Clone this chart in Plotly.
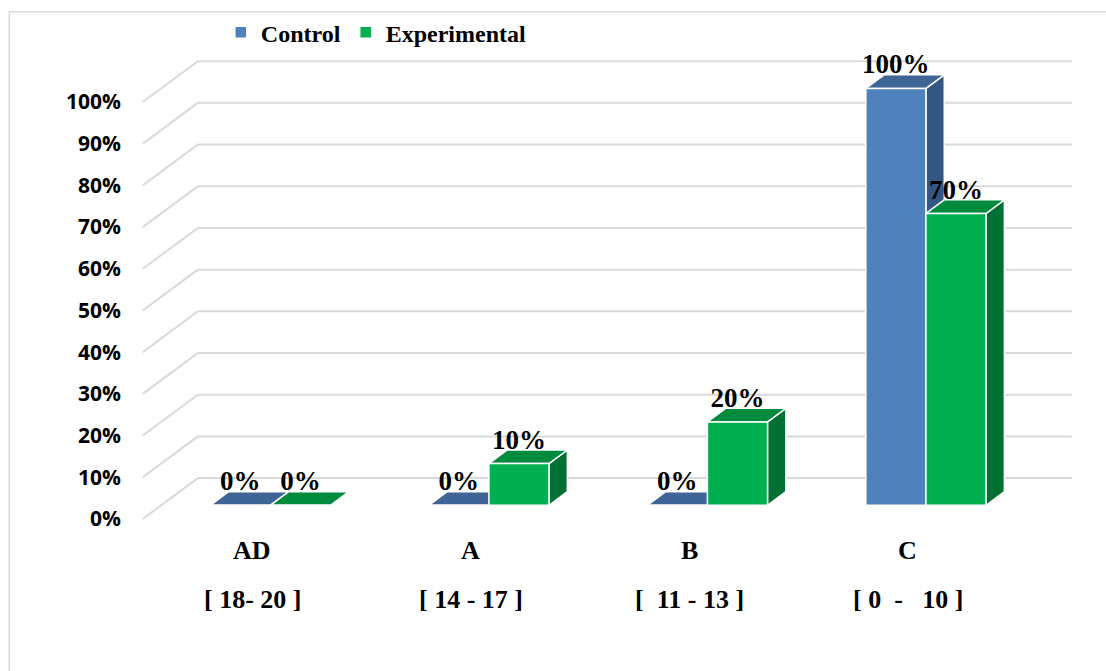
import plotly.graph_objects as go

# ---- data ----
grades = ["AD", "A", "B", "C"]
score_ranges = ["[ 18- 20 ]", "[ 14 - 17 ]", "[  11 - 13 ]", "[ 0  -   10 ]"]
control = [0, 0, 0, 100]
experimental = [0, 10, 20, 70]
y_ticks = [0, 10, 20, 30, 40, 50, 60, 70, 80, 90, 100]
y_tick_text = [f"{v}%" for v in y_ticks]

# ---- styling / geometry ----
W, H = 1106, 671
PX_CAT, X_CAT0 = 218.5, 252.2      # pixels per category, pixel of category 0 (front plane)
PX_PCT, Y_PCT0 = 4.17, 519.3       # pixels per percent, pixel of 0% (front plane)
DEPTH_X, DEPTH_Y = 0.252, 9.8      # oblique depth offset of the floor/walls (data units)
BAR_W = 0.275                      # width of one bar (category units)
X_RANGE = [-0.595, 3.78]
Y_RANGE = [-30, 118]

ML = X_CAT0 + X_RANGE[0] * PX_CAT
MR = W - (X_CAT0 + X_RANGE[1] * PX_CAT)
MT = Y_PCT0 - Y_RANGE[1] * PX_PCT
MB = H - (Y_PCT0 - Y_RANGE[0] * PX_PCT)
PLOT_W, PLOT_H = W - ML - MR, H - MT - MB

GRID = "#D9D9D9"
COLORS = {
    "Control": {"front": "#4F81BD", "top": "#3E6595", "side": "#345682"},
    "Experimental": {"front": "#00B050", "top": "#008A3E", "side": "#007033"},
}
SERIF = "Liberation Serif, Times New Roman, serif"
SANS = "Open Sans, Arial, sans-serif"


def shift(x, y, t):
    """Point (x, y) on the front plane pushed back to depth t (0..1)."""
    return x + t * DEPTH_X, y + t * DEPTH_Y


def poly(points):
    return "M " + " L ".join(f"{x},{y}" for x, y in points) + " Z"


shapes = []

# back wall and side wall gridlines
for v in y_ticks:
    bx0, by = shift(-0.5, v, 1)
    bx1, _ = shift(3.5, v, 1)
    shapes.append(dict(type="line", xref="x", yref="y", x0=bx0, y0=by, x1=bx1, y1=by,
                       line=dict(color=GRID, width=2), layer="below"))
    shapes.append(dict(type="line", xref="x", yref="y", x0=-0.5, y0=v, x1=bx0, y1=by,
                       line=dict(color=GRID, width=2), layer="below"))

# top and side faces of each bar (front faces are drawn as bar traces)
series = [("Control", control, -BAR_W), ("Experimental", experimental, 0.0)]
for i in range(len(grades)):
    for name, vals, off in series:
        v = vals[i]
        a, b_ = i + off, i + off + BAR_W
        col = COLORS[name]
        if v > 0:
            side = [shift(b_, 0, 1 / 3), shift(b_, v, 1 / 3), shift(b_, v, 2 / 3), shift(b_, 0, 2 / 3)]
            shapes.append(dict(type="path", xref="x", yref="y", path=poly(side),
                               fillcolor=col["side"], line=dict(color="white", width=1.5), layer="below"))
        top = [shift(a, v, 1 / 3), shift(b_, v, 1 / 3), shift(b_, v, 2 / 3), shift(a, v, 2 / 3)]
        shapes.append(dict(type="path", xref="x", yref="y", path=poly(top),
                           fillcolor=col["top"], line=dict(color="white", width=1.5), layer="below"))

# chart area border
shapes.append(dict(type="rect", xref="paper", yref="paper",
                   x0=(9.5 - ML) / PLOT_W, x1=(W + 20 - ML) / PLOT_W,
                   y0=-(H + 20 - MT - PLOT_H) / PLOT_H, y1=1 + (MT - 12) / PLOT_H,
                   line=dict(color=GRID, width=1.5), fillcolor="rgba(0,0,0,0)", layer="below"))

fig = go.Figure()

# front faces
for name, vals, off in series:
    fig.add_trace(go.Bar(
        name=name,
        x=[i + DEPTH_X / 3 for i in range(len(grades))],
        y=vals,
        base=DEPTH_Y / 3,
        width=BAR_W,
        offset=off,
        marker=dict(color=COLORS[name]["front"], line=dict(color="white", width=1.5)),
        hoverinfo="skip",
    ))

# value labels just above the top faces
LABEL_DROP = 1.3
for name, vals, off in series:
    xs = [shift(i + off + BAR_W / 2, v, 1 / 3)[0] for i, v in enumerate(vals)]
    ys = [shift(0, v, 2 / 3)[1] - LABEL_DROP for v in vals]
    fig.add_trace(go.Scatter(
        x=xs, y=ys, mode="text", text=[f"{v}%" for v in vals],
        textposition="top center",
        textfont=dict(family=SERIF, size=27, color="black", weight="bold"),
        showlegend=False, hoverinfo="skip",
    ))

# category labels under the floor
annotations = []
for i, (g, rng) in enumerate(zip(grades, score_ranges)):
    annotations.append(dict(x=i, y=(Y_PCT0 - 551) / PX_PCT, xref="x", yref="y", text=g,
                            showarrow=False, font=dict(family=SERIF, size=26, color="black", weight="bold")))
    annotations.append(dict(x=i, y=(Y_PCT0 - 600) / PX_PCT, xref="x", yref="y", text=rng,
                            showarrow=False, font=dict(family=SERIF, size=26, color="black", weight="bold")))

fig.update_layout(
    width=W, height=H,
    margin=dict(l=ML, r=MR, t=MT, b=MB, autoexpand=False),
    paper_bgcolor="white", plot_bgcolor="white",
    barmode="overlay",
    shapes=shapes,
    annotations=annotations,
    showlegend=True,
    legend=dict(orientation="h", x=(221 - ML) / PLOT_W, xanchor="left",
                y=1 - (33 - MT) / PLOT_H, yanchor="middle",
                font=dict(family=SERIF, size=24, color="black", weight="bold"),
                bgcolor="rgba(0,0,0,0)"),
    xaxis=dict(range=X_RANGE, showgrid=False, zeroline=False, showline=False,
               showticklabels=False, ticks=""),
    yaxis=dict(range=Y_RANGE, showgrid=False, zeroline=False, showline=False, ticks="",
               tickvals=y_ticks, ticktext=y_tick_text,
               tickfont=dict(family=SANS, size=21, color="black", weight="bold")),
)

fig.write_html("out.html")
